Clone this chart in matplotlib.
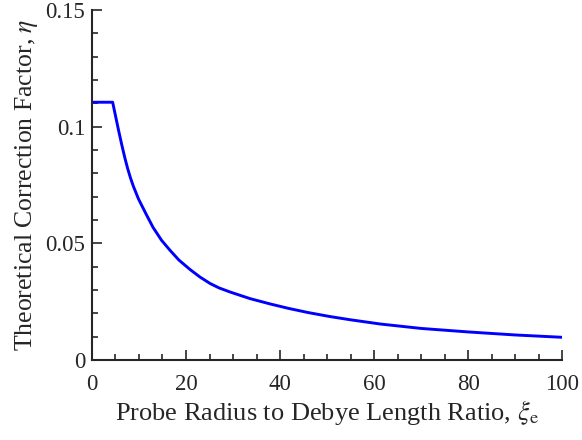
import matplotlib
matplotlib.use('Agg')
from matplotlib import pyplot as plt
from matplotlib.ticker import MultipleLocator

# ratio of probe radius to Debye length, and the correction factor
xi = [0, 4.4, 5.6, 6.3, 7.0, 7.6, 8.2, 8.8, 9.9, 11.6, 13.0, 14.8, 16.6, 18.5, 20.9, 23.0,
      25.1, 27.0, 29.4, 33.6, 37.9, 41.8, 46.0, 50.6, 55.0, 61.3, 70, 80, 90, 100]
eta = [0.1105, 0.1105, 0.0990, 0.0926, 0.0866, 0.0820, 0.0780, 0.0745, 0.0690, 0.0622,
       0.0568, 0.0513, 0.0470, 0.0428, 0.0387, 0.0355, 0.0328, 0.0309, 0.0291, 0.0263,
       0.0240, 0.0221, 0.0203, 0.0186, 0.0172, 0.0154, 0.0135, 0.0120, 0.0107, 0.0097]

plt.rcParams['font.family'] = ['Liberation Serif', 'DejaVu Serif']
plt.rcParams['mathtext.fontset'] = 'stix'

fig = plt.figure(figsize=(5.82, 4.40), dpi=100)
ax = fig.add_axes([0.158, 0.182, 0.808, 0.795])
ax.plot(xi, eta, color='#0000ff', lw=2.1)

ax.set_xlim(0, 100)
ax.set_ylim(0, 0.15)
ax.set_xticks([0, 20, 40, 60, 80, 100])
ax.set_yticks([0, 0.05, 0.1, 0.15])
ax.set_yticklabels(['0', '0.05', '0.1', '0.15'])
ax.xaxis.set_minor_locator(MultipleLocator(5))
ax.yaxis.set_minor_locator(MultipleLocator(0.01))
ax.tick_params(which='both', direction='in', labelsize=16.5, colors='#262626', width=1.2)
ax.tick_params(which='major', length=7)
ax.tick_params(which='minor', length=4)
ax.tick_params(axis='x', which='major', pad=10)
ax.tick_params(axis='y', which='major', pad=5)
for s in ['top', 'right']:
    ax.spines[s].set_visible(False)
for s in ['left', 'bottom']:
    ax.spines[s].set_linewidth(1.5)
    ax.spines[s].set_color('#262626')

ax.set_xlabel(r'Probe Radius to Debye Length Ratio, $\xi_\mathrm{e}$', fontsize=19,
              color='#262626', labelpad=2)
ax.set_ylabel(r'Theoretical Correction Factor, $\eta$', fontsize=18.5, color='#262626')

fig.savefig('out.png', dpi=100)
